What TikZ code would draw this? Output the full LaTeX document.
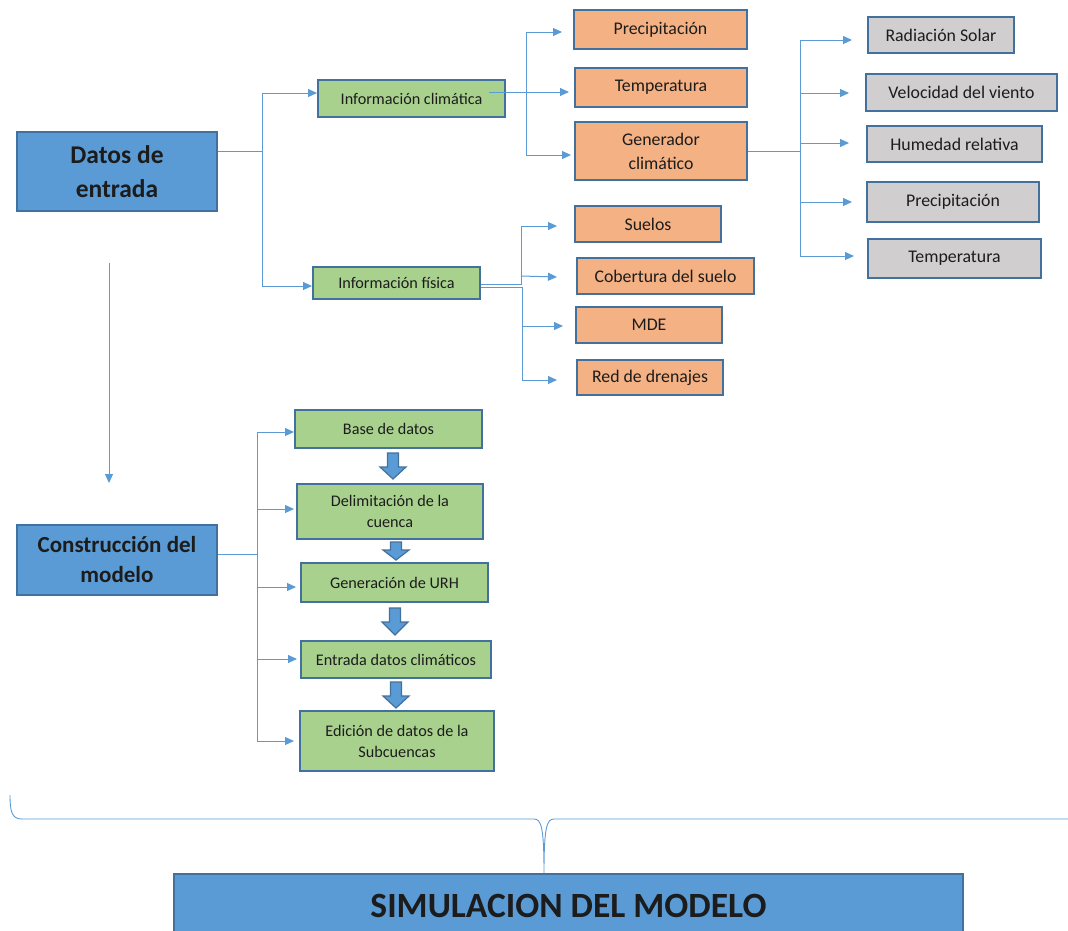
\documentclass[tikz,border=0pt]{standalone}
\usepackage{fontspec}
\setmainfont{Carlito}
\usetikzlibrary{arrows.meta,calc}
\definecolor{bluefill}{HTML}{5B9BD5}
\definecolor{boxline}{HTML}{41719C}
\definecolor{greenfill}{HTML}{A9D18E}
\definecolor{orangefill}{HTML}{F4B183}
\definecolor{grayfill}{HTML}{D0CECE}
\definecolor{linecol}{HTML}{5B9BD5}
\definecolor{txt}{HTML}{1C1C1C}
\newcommand\dnarr[4]{\filldraw[barrow] (#1-5.5,#2) -- (#1+5.5,#2) -- (#1+5.5,#3) -- (#1+13,#3) -- (#1,#4) -- (#1-13,#3) -- (#1-5.5,#3) -- cycle;}
\begin{document}
\begin{tikzpicture}[x=1pt,y=-1pt,
  box/.style={draw=boxline, line width=2pt, inner sep=0pt, align=center, text=txt},
  bluebox/.style={box, fill=bluefill},
  greenbox/.style={box, fill=greenfill, font=\fontsize{16.2}{21}\selectfont},
  orangebox/.style={box, fill=orangefill, font=\fontsize{17.8}{24}\selectfont},
  graybox/.style={box, fill=grayfill, font=\fontsize{17.8}{24}\selectfont},
  conn/.style={draw=linecol, line width=1pt},
  arr/.style={conn, -{Triangle[length=9pt,width=8pt]}},
  barrow/.style={fill=bluefill, draw=boxline, line width=1.2pt, line join=miter},
  bracestyle/.style={draw=linecol, line width=0.9pt}
]
\useasboundingbox (0,0) rectangle (1068,930);

% main blue boxes
\node[bluebox, minimum width=200, minimum height=79, font=\bfseries\fontsize{25.5}{34}\selectfont] (datos) at (117,171.5) {Datos de\\entrada};
\node[bluebox, minimum width=200, minimum height=70, font=\bfseries\fontsize{23}{30}\selectfont] (constr) at (117,560) {Construcción del\\modelo};
\node[bluebox, minimum width=789, minimum height=64, font=\bfseries\fontsize{35.5}{40}\selectfont] (sim) at (568.5,906) {SIMULACION DEL MODELO};

% second level
\node[greenbox, minimum width=187, minimum height=37] (infoclim) at (411.5,98.5) {Información climática};
\node[greenbox, minimum width=167, minimum height=32] (infofis) at (396.5,283) {Información física};

% orange boxes
\node[orangebox, minimum width=173, minimum height=39] (precip) at (660.5,29.5) {Precipitación};
\node[orangebox, minimum width=172, minimum height=39] (temp) at (661,87.5) {Temperatura};
\node[orangebox, minimum width=172, minimum height=58] (gen) at (661,151) {Generador\\climático};
\node[orangebox, minimum width=146, minimum height=36] (suelos) at (648,224) {Suelos};
\node[orangebox, minimum width=177, minimum height=36] (cob) at (665.5,276) {Cobertura del suelo};
\node[orangebox, minimum width=146, minimum height=36] (mde) at (649,325) {MDE};
\node[orangebox, minimum width=146, minimum height=35] (red) at (650,377.5) {Red de drenajes};

% gray boxes
\node[graybox, minimum width=146, minimum height=36] (rad) at (941,35) {Radiación Solar};
\node[graybox, minimum width=191, minimum height=37] (vel) at (961.5,92.5) {Velocidad del viento};
\node[graybox, minimum width=175, minimum height=36] (hum) at (954.5,144) {Humedad relativa};
\node[graybox, minimum width=172, minimum height=40] (prec2) at (953,202) {Precipitación};
\node[graybox, minimum width=173, minimum height=39] (temp2) at (954.5,258.5) {Temperatura};

% model construction steps
\node[greenbox, minimum width=187, minimum height=38] (base) at (388.5,429) {Base de datos};
\node[greenbox, minimum width=186, minimum height=55] (delim) at (390,511.5) {Delimitación de la\\cuenca};
\node[greenbox, minimum width=187, minimum height=39] (urh) at (394.5,582.5) {Generación de URH};
\node[greenbox, minimum width=190, minimum height=37] (entr) at (396,659.5) {Entrada datos climáticos};
\node[greenbox, minimum width=194, minimum height=60] (edic) at (397,741) {Edición de datos de la\\Subcuencas};

% Datos de entrada tree
\coordinate (j1) at (262,151);
\coordinate (j1a) at (262,93);
\coordinate (j1b) at (262,286);
\draw[conn] (datos.east |- j1) -- (j1);
\draw[conn] (j1a) -- (j1b);
\draw[arr] (j1a) -- (infoclim.west |- j1a);
\draw[arr] (j1b) -- (infofis.west |- j1b);

% Informacion climatica tree
\coordinate (c1) at (526,92);
\coordinate (c1a) at (526,32);
\coordinate (c1b) at (526,155);
\draw[conn] (c1a) -- (c1b);
\draw[arr] ($(infoclim.east |- c1)+(-17,0)$) -- ($(temp.west |- c1)+(-5,0)$);
\draw[arr] (c1a) -- ($(precip.west |- c1a)+(-11,0)$);
\draw[arr] (c1b) -- ($(gen.west |- c1b)+(-3,0)$);

% Generador climatico tree
\coordinate (g1) at (800,151);
\coordinate (g1a) at (800,40);
\coordinate (g1b) at (800,256);
\coordinate (g2) at (800,93);
\coordinate (g3) at (800,143);
\coordinate (g4) at (800,202);
\draw[conn] (gen.east |- g1) -- (g1);
\draw[conn] (g1a) -- (g1b);
\draw[arr] (g1a) -- ($(rad.west |- g1a)+(-15,0)$);
\draw[arr] (g2) -- ($(vel.west |- g2)+(-16,0)$);
\draw[arr] (g3) -- ($(hum.west |- g3)+(-17,0)$);
\draw[arr] (g4) -- ($(prec2.west |- g4)+(-14,0)$);
\draw[arr] (g1b) -- ($(temp2.west |- g1b)+(-13,0)$);

% Informacion fisica tree
\coordinate (f1u) at (521,284);
\coordinate (f1d) at (522,287);
\coordinate (f1a) at (521,226);
\coordinate (f1b) at (522,380);
\coordinate (f2) at (521,276);
\coordinate (f3) at (522,326);
\draw[conn] (infofis.east |- f1u) -- (f1u) -- (f1a);
\draw[conn] (infofis.east |- f1d) -- (f1d) -- (f1b);
\draw[arr] (f1a) -- ($(suelos.west |- f1a)+(-17,0)$);
\draw[arr] (f2) -- ($(cob.west |- f2)+(-19,1)$);
\draw[arr] (f3) -- ($(mde.west |- f3)+(-12,0)$);
\draw[arr] (f1b) -- ($(red.west |- f1b)+(-19,0)$);

% Datos -> Construccion
\draw[arr] ($(datos.south)+(-8,51)$) -- ($(constr.north)+(-8,-41)$);

% Construccion tree
\coordinate (k1) at (257,554);
\coordinate (k1a) at (257,432);
\coordinate (k1b) at (257,741);
\coordinate (k2) at (257,509);
\coordinate (k3) at (257,587);
\coordinate (k4) at (257,659);
\draw[conn] (constr.east |- k1) -- (k1);
\draw[conn] (k1a) -- (k1b);
\draw[arr] (k1a) -- (base.west |- k1a);
\draw[arr] (k2) -- ($(delim.west |- k2)+(-2,0)$);
\draw[arr] (k3) -- ($(urh.west |- k3)+(-4,0)$);
\draw[arr] (k4) -- ($(entr.west |- k4)+(-3,0)$);
\draw[arr] (k1b) -- ($(edic.west |- k1b)+(-5,0)$);

% block arrows between steps
\dnarr{393}{453}{467}{479}
\dnarr{396}{542}{550}{560}
\dnarr{395}{608}{622}{635}
\dnarr{396}{682}{696}{708}

% brace
\coordinate (bl) at (10,795);
\coordinate (btip) at (544,873);
\coordinate (br) at (1075,819);
\draw[bracestyle] (bl) .. controls (10,812) and (12,819) .. (22,819) -- (534,819)
  .. controls (541,819) and (544,826) .. (btip)
  .. controls (544,826) and (547,819) .. (554,819) -- (br);
\end{tikzpicture}
\end{document}
